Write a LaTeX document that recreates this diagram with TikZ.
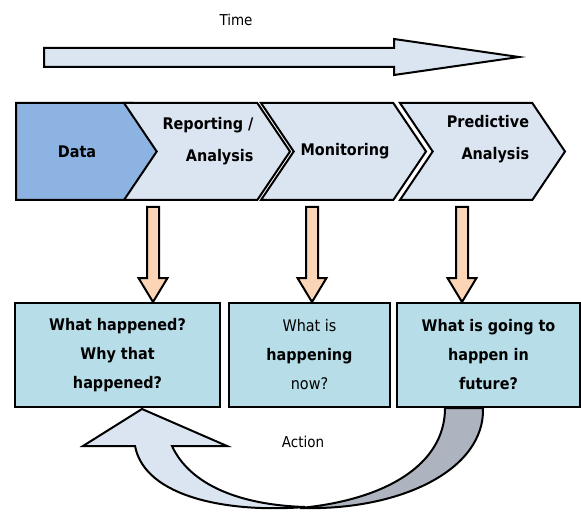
\documentclass[tikz,border=0pt]{standalone}
\usepackage{fontspec}
\setmainfont{DejaVu Sans Condensed}[BoldFont={DejaVu Sans Condensed Bold}]
\usetikzlibrary{shapes.symbols,calc}

\definecolor{datablue}{HTML}{8DB3E2}
\definecolor{stepblue}{HTML}{DBE5F1}
\definecolor{qblue}{HTML}{B7DDE8}
\definecolor{peach}{HTML}{FBD5B5}
\definecolor{backgray}{HTML}{ADB4BF}

% block arrow straight down, at x=#1, from node #2 to node #3
\newcommand{\blockdown}[3]{%
\filldraw[downarrow] let \p1=(#1,0 |- #2.south), \p2=(#1,0 |- #3.north) in
  (\x1-6pt,\y1-6pt) -- (\x1+6pt,\y1-6pt) -- (\x1+6pt,\y2+24pt) -- (\x1+14.5pt,\y2+24pt)
  -- (\x2,\y2) -- (\x1-14.5pt,\y2+24pt) -- (\x1-6pt,\y2+24pt) -- cycle;}

\begin{document}
\begin{tikzpicture}[x=1pt, y=-1pt, line width=2pt,
  chev/.style={signal, draw, fill=stepblue, minimum height=97, signal pointer angle=112,
    signal to=east, signal from=west, inner sep=0},
  steptext/.style={align=right, inner sep=0, font=\bfseries\fontsize{16}{32}\selectfont},
  answer/.style={draw, fill=qblue, minimum height=104, align=center, inner sep=2,
    font=\fontsize{16}{29}\selectfont},
  downarrow/.style={draw, fill=peach, line join=miter}]
\useasboundingbox (0,0) rectangle (581,513);

% time line
\node [font=\fontsize{15}{18}\selectfont] (time) at (236,20) {Time};
\filldraw [fill=stepblue] (44,48) -- (394,48) -- (394,39) -- (519,57) -- (394,75) -- (394,67) -- (44,67) -- cycle;

% steps
\node [chev, fill=datablue, signal from=nowhere, minimum width=149, anchor=west] (data) at (15,151.5) {};
\node [chev, minimum width=166] (rep) at (207,151.5) {};
\node [chev, minimum width=165] (mon) at (343.5,151.5) {};
\node [chev, minimum width=165] (pred) at (482.5,151.5) {};
\node [steptext] (datatext) at (77,152) {Data};
\node [steptext] (reptext) at (208,141) {Reporting /\\Analysis};
\node [steptext] (montext) at (345,151) {Monitoring};
\node [steptext] (predtext) at (488,139) {Predictive\\Analysis};

% questions
\node [answer, minimum width=205, font=\bfseries\fontsize{16}{29}\selectfont] (happened) at (117.5,355) {What happened?\\Why that\\happened?};
\node [answer, minimum width=161] (happening) at (309.5,355) {What is\\\textbf{happening}\\now?};
\node [answer, minimum width=183, font=\bfseries\fontsize{16}{29}\selectfont] (future) at (488.5,355) {What is going to\\happen in\\future?};

\blockdown{153}{rep}{happened}
\blockdown{312}{mon}{happening}
\blockdown{462}{pred}{future}

% action loop
\filldraw [fill=stepblue] (142,409) -- (227,446) -- (172,446) .. controls (190,485) and (240,505) .. (305,507)
  .. controls (230,513) and (145,498) .. (135,446) -- (83,446) -- cycle;
\filldraw [fill=backgray] (445,408) .. controls (445,465) and (385,500) .. (300,508)
  .. controls (400,511) and (485,470) .. (483,408) -- cycle;
\node [font=\fontsize{15}{18}\selectfont] (action) at (303,442) {Action};
\end{tikzpicture}
\end{document}
